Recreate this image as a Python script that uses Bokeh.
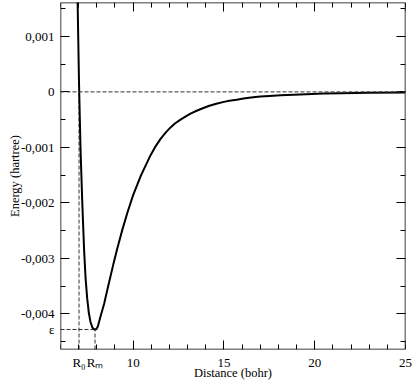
from bokeh.plotting import figure
from bokeh.models import (Range1d, LinearAxis, SingleIntervalTicker, FixedTicker,
                          CustomJSTickFormatter, Span)
from bokeh.embed import file_html
from bokeh.resources import INLINE

# ---- data ----
distance = [6.93, 6.97, 7.02, 7.10, 7.20, 7.30, 7.38, 7.47, 7.56, 7.65,
            7.75, 7.82, 7.90, 7.98, 8.06, 8.20, 8.40, 8.66, 8.90, 9.12,
            9.40, 9.67, 10.00, 10.41, 10.70, 10.96, 11.20, 11.50, 11.80,
            12.06, 12.30, 12.61, 12.90, 13.16, 13.50, 13.80, 14.20, 14.63,
            15.00, 15.30, 15.70, 16.08, 16.50, 17.00, 17.50, 18.12, 19.20,
            20.50, 21.43, 23.00, 25.00]
energy = [0.00185, 0.00110, 0.00015, -0.00100, -0.00200, -0.00285, -0.00335,
          -0.00372, -0.00398, -0.00414, -0.00424, -0.00427, -0.00428,
          -0.00427, -0.00422, -0.00405, -0.00382, -0.00345, -0.00312,
          -0.00283, -0.00249, -0.00219, -0.00186, -0.00152, -0.00132,
          -0.00114, -0.00100, -0.00085, -0.00073, -0.00064, -0.00057,
          -0.00050, -0.00044, -0.00039, -0.00034, -0.00030, -0.00025,
          -0.00021, -0.00018, -0.00016, -0.00014, -0.00012, -0.00010,
          -0.000085, -0.000074, -0.000062, -0.000045, -0.000030, -0.000023,
          -0.000015, -0.000009]
R0 = 7.02
Rm = 7.90
eps = -0.00428
x_limits = [6, 25]
y_limits = [-0.00464, 0.00161]
x_major = [10, 15, 20, 25]
y_major = [0.001, 0, -0.001, -0.002, -0.003, -0.004]
x_title = "Distance (bohr)"
y_title = "Energy (hartree)"

FONT = "Liberation Serif"

p = figure(width=414, height=382, output_backend="svg", toolbar_location=None,
           x_range=Range1d(*x_limits), y_range=Range1d(*y_limits),
           min_border_left=60, min_border_right=9, min_border_top=2,
           min_border_bottom=33)
p.xgrid.visible = False
p.ygrid.visible = False
p.outline_line_color = None
p.background_fill_color = "white"
p.border_fill_color = "white"

blank = CustomJSTickFormatter(code="return '';")
yfmt = CustomJSTickFormatter(args=dict(eps=eps), code="""
if (Math.abs(tick - eps) < 1e-9) { return 'ε'; }
if (Math.abs(tick) < 1e-12) { return '0'; }
return tick.toFixed(3).replace('.', ',');
""")
xfmt = CustomJSTickFormatter(args=dict(r0=R0, rm=Rm), code="""
if (Math.abs(tick - r0) < 1e-9) { return 'R\u2080'; }
if (Math.abs(tick - rm) < 1e-9) { return 'R\u2098'; }
return tick.toFixed(0);
""")


def frame_axis(ax, ticker, loc):
    ax.ticker = ticker
    ax.formatter = blank
    ax.fixed_location = loc
    ax.axis_line_color = "black"
    ax.axis_line_width = 1.5
    ax.major_tick_line_color = "black"
    ax.minor_tick_line_color = "black"
    ax.major_tick_line_width = 1
    ax.minor_tick_line_width = 1
    ax.major_tick_in = 9
    ax.major_tick_out = 0
    ax.minor_tick_in = 5
    ax.minor_tick_out = 0
    ax.major_label_standoff = 0
    ax.major_label_text_font_size = "0px"
    ax.axis_label = None


def label_axis(ax, ticker, fmt, title, standoff, title_standoff):
    ax.ticker = ticker
    ax.formatter = fmt
    ax.axis_line_color = None
    ax.major_tick_line_color = None
    ax.minor_tick_line_color = None
    ax.major_tick_in = 0
    ax.major_tick_out = 0
    ax.minor_tick_in = 0
    ax.minor_tick_out = 0
    ax.major_label_standoff = standoff
    ax.major_label_text_font = FONT
    ax.major_label_text_font_size = "13px"
    ax.major_label_text_color = "black"
    ax.axis_label = title
    ax.axis_label_standoff = title_standoff
    ax.axis_label_text_font = FONT
    ax.axis_label_text_font_size = "12.5px"
    ax.axis_label_text_font_style = "normal"
    ax.axis_label_text_color = "black"


# frame axes (line + inward ticks) pinned to the frame edges
frame_axis(p.xaxis[0], SingleIntervalTicker(interval=5, num_minor_ticks=5), y_limits[0])
frame_axis(p.yaxis[0], SingleIntervalTicker(interval=0.001, num_minor_ticks=2), x_limits[0])
top = LinearAxis()
frame_axis(top, SingleIntervalTicker(interval=5, num_minor_ticks=5), y_limits[1])
p.add_layout(top, "above")
right = LinearAxis()
frame_axis(right, SingleIntervalTicker(interval=0.001, num_minor_ticks=2), x_limits[1])
p.add_layout(right, "right")

# tick-label axes (incl. R0, Rm and epsilon) with the axis titles
xb = LinearAxis()
label_axis(xb, FixedTicker(ticks=[R0, Rm] + x_major), xfmt, x_title, 5, -7)
p.add_layout(xb, "below")

yb = LinearAxis()
label_axis(yb, FixedTicker(ticks=y_major + [eps]), yfmt, y_title, 6, -4)
p.add_layout(yb, "left")

dash = dict(line_color="#333333", line_width=1, line_dash="4 2")
p.add_layout(Span(location=0, dimension="width", **dash))
p.segment(x0=[R0, Rm, x_limits[0]], y0=[y_limits[0], y_limits[0], eps],
          x1=[R0, Rm, Rm], y1=[0, eps, eps], **dash)

p.line(distance, energy, line_color="black", line_width=2)

open("out.html", "w").write(file_html(p, INLINE))
